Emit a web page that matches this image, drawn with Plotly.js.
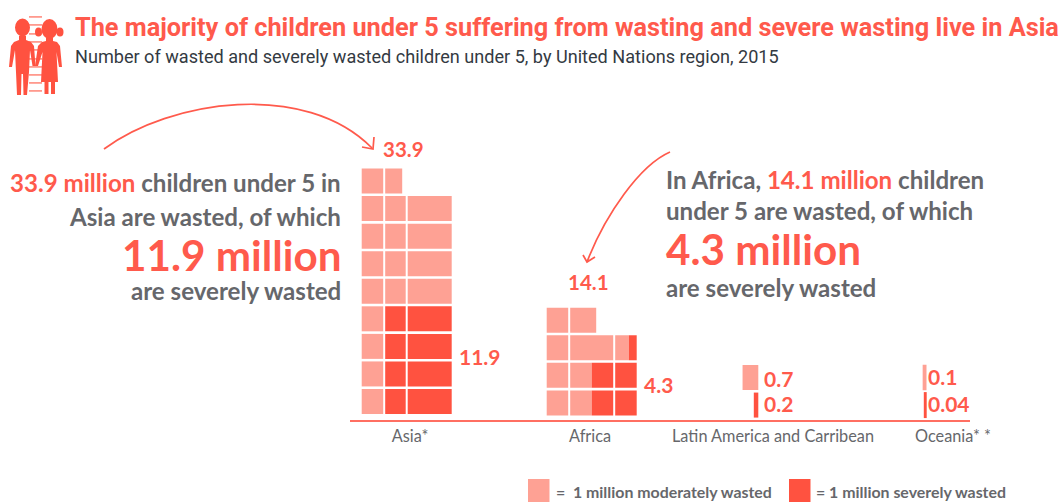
<!DOCTYPE html>
<html><head><meta charset="utf-8">
<script src="https://cdn.plot.ly/plotly-3.0.1.min.js"></script>
<style>html,body{margin:0;padding:0;background:#fff}</style></head>
<body><div id="chart" style="width:1063px;height:502px"></div>
<script>
// ---- data (rows run bottom to top, millions of children per row) ----
const regionLabels = ['Asia*', 'Africa', 'Latin America and Carribean', 'Oceania* *'];
const asiaModerate = [1, 1, 1, 1, 4, 4, 4, 4, 1.8];
const asiaSevere   = [3, 3, 3, 3, 0, 0, 0, 0, 0];
const africaModerate = [2, 2, 3.65, 2.2];
const africaSevere   = [2, 2, 0.35, 0];
const latamModerate = [0, 0.7];
const latamSevere   = [0.2, 0];
const oceaniaModerate = [0, 0.1];
const oceaniaSevere   = [0.04, 0];
const valueLabels = ['33.9', '11.9', '14.1', '4.3', '0.7', '0.2', '0.1', '0.04'];

// ---- layout constants ----
const W = 1063, H = 502;
const L = 350, R = 970, T = 150, B = 420;
const UNIT = 22.5, ROW = 27.56;
const xRange = [0, (R - L) / UNIT];
const yRange = [(401.5 - B) / ROW, (401.5 - T) / ROW];
const uX = px => (px - L) / UNIT;
const fx = px => (px - L) / (R - L);
const fy = py => (B - py) / (B - T);
const MOD = '#fea194', SEV = '#ff5240', RED = '#ff5a4c', GREY = '#66676b', AXIS = '#ff6f62';
const LATO = 'Lato, sans-serif', ROBOTO = 'Roboto, sans-serif';

const regions = [
  {mod: asiaModerate, sev: asiaSevere, left: 361.7, dy: 0, breaks: [1, 2]},
  {mod: africaModerate, sev: africaSevere, left: 546.7, dy: -0.05, breaks: [1, 3]},
  {mod: latamModerate, sev: latamSevere, right: 758.3, dy: -0.13, breaks: []},
  {mod: oceaniaModerate, sev: oceaniaSevere, right: 925.7, dy: -0.13, breaks: [], thin: true}
];

const modT = {x: [], base: [], y: []}, sevT = {x: [], base: [], y: []};
const thinMod = {x: [], base: [], y: []}, thinSev = {x: [], base: [], y: []};
const shapes = [];
regions.forEach(r => {
  r.mod.forEach((m, i) => {
    const s = r.sev[i];
    const start = r.left !== undefined ? uX(r.left) : uX(r.right) - m - s;
    const mt = r.thin ? thinMod : modT, st = r.thin ? thinSev : sevT;
    if (m > 0) { mt.x.push(m); mt.base.push(start); mt.y.push(i + r.dy); }
    if (s > 0) { st.x.push(s); st.base.push(start + m); st.y.push(i + r.dy); }
  });
  r.breaks.forEach(b => shapes.push({
    type: 'line', xref: 'x', yref: 'y', layer: 'above',
    x0: uX(r.left) + b, x1: uX(r.left) + b,
    y0: r.dy - 0.5, y1: r.mod.length - 0.5 + r.dy,
    line: {color: '#ffffff', width: 2}
  }));
});
const bar = (t, color, name, lw) => ({
  type: 'bar', orientation: 'h', name, x: t.x, base: t.base, y: t.y, width: lw ? 0.87 : 0.907,
  marker: {color, line: {color: lw ? color : 'rgba(0,0,0,0)', width: lw || 0}},
  hoverinfo: 'skip', showlegend: false
});
const traces = [bar(modT, MOD, 'moderately wasted'), bar(sevT, SEV, 'severely wasted'),
                bar(thinMod, MOD, 'moderately wasted', 1.6), bar(thinSev, SEV, 'severely wasted', 2)];

// helpers for pixel-positioned decoration
const pth = (cmds, color, w, fill) => ({
  type: 'path', xref: 'paper', yref: 'paper',
  path: cmds.map(c => typeof c === 'string' ? c : fx(c[0]).toFixed(5) + ',' + fy(c[1]).toFixed(5)).join(' '),
  line: {color: w ? color : 'rgba(0,0,0,0)', width: w || 0},
  fillcolor: fill ? color : 'rgba(0,0,0,0)'
});
const rect = (x0, y0, x1, y1, color) => ({
  type: 'rect', xref: 'paper', yref: 'paper', x0: fx(x0), x1: fx(x1), y0: fy(y0), y1: fy(y1),
  fillcolor: color, line: {width: 0}
});
const circ = (cx, cy, rx, ry, color) => ({
  type: 'circle', xref: 'paper', yref: 'paper', x0: fx(cx - rx), x1: fx(cx + rx), y0: fy(cy - ry), y1: fy(cy + ry),
  fillcolor: color, line: {width: 0}
});

// arrows
shapes.push(pth(['M', [104, 149], 'C', [170, 100], [305, 80], [372, 148]], RED, 1.7));
shapes.push(pth(['M', [362, 147], 'L', [373, 149], 'L', [374, 137]], RED, 1.7));
shapes.push(pth(['M', [670, 152], 'C', [640, 165], [605, 215], [587, 262]], RED, 1.7));
shapes.push(pth(['M', [583, 255], 'L', [587, 262], 'L', [595, 257]], RED, 1.7));

// legend swatches
shapes.push(rect(528, 479, 549.5, 502, MOD), rect(789, 479, 810.5, 502, SEV));

// icon: ladder, boy, girl
const IC = '#ff5240';
[16, 24, 33, 41, 49, 58, 66, 74, 82, 90].forEach(y => shapes.push(rect(29, y, 42, y + 1.8, '#ff9a8e')));
shapes.push(circ(22.5, 27.5, 7.5, 9, IC));
shapes.push(pth(['M', [19, 36], 'L', [26, 36], 'L', [26, 40], 'L', [31, 42], 'L', [34, 46], 'L', [35.5, 66], 'L', [32.5, 66], 'L', [30, 50], 'L', [29, 72], 'L', [27, 95], 'L', [23.5, 95], 'L', [23, 74], 'L', [21.5, 74], 'L', [21, 95], 'L', [17, 95], 'L', [16, 72], 'L', [15, 50], 'L', [12, 67], 'L', [9, 67], 'L', [11, 46], 'L', [14, 42], 'L', [19, 40], 'Z'], IC, 0, true));
shapes.push(circ(49.5, 29, 8, 10, IC));
shapes.push(circ(38.5, 32, 3.5, 4.5, IC), circ(60, 32, 3.5, 4.5, IC));
shapes.push(pth(['M', [46, 38], 'L', [53, 38], 'L', [53, 41], 'L', [57, 42], 'L', [60, 46], 'L', [62, 67], 'L', [59, 67], 'L', [56.5, 52], 'L', [58, 82], 'L', [55, 82], 'L', [55, 94], 'L', [51, 94], 'L', [51, 82], 'L', [48.5, 82], 'L', [48.5, 94], 'L', [44.5, 94], 'L', [44.5, 82], 'L', [41, 82], 'L', [42.5, 52], 'L', [38, 66], 'L', [35, 66], 'L', [38, 46], 'L', [42, 42], 'L', [46, 41], 'Z'], IC, 0, true));

// text
const red = s => '<span style="color:' + RED + '">' + s + '</span>';
const ann = (text, px, py, size, anchor, color, family, weight) => ({
  text, xref: 'paper', yref: 'paper', x: fx(px), y: fy(py), xanchor: anchor, yanchor: 'middle',
  showarrow: false, align: anchor, borderpad: 0, borderwidth: 0,
  font: {family: family || LATO, size, color: color || GREY, weight: weight || 700}
});
const annotations = [
  ann('Number of wasted and severely wasted children under 5, by United Nations region, 2015', 75, 57, 18.1, 'left', '#333a42', ROBOTO, 400),
  ann(red('33.9 million') + ' children under 5 in', 341, 182, 24.1, 'right'),
  ann('Asia are wasted, of which', 341, 216, 24.1, 'right'),
  ann('11.9 million', 341, 254, 42.2, 'right', RED),
  ann('are severely wasted', 341, 290, 24.1, 'right'),
  ann('In Africa, ' + red('14.1 million') + ' children', 666, 179, 24.1, 'left'),
  ann('under 5 are wasted, of which', 666, 210, 24.1, 'left'),
  ann('4.3 million', 666, 248, 42.2, 'left', RED),
  ann('are severely wasted', 666, 287, 24.1, 'left'),
  ann(valueLabels[0], 403, 149, 20.5, 'center', RED),
  ann(valueLabels[1], 459, 356, 21, 'left', RED),
  ann(valueLabels[2], 588, 282, 20.5, 'center', RED),
  ann(valueLabels[3], 644, 384, 21, 'left', RED),
  ann(valueLabels[4], 764, 378, 21, 'left', RED),
  ann(valueLabels[5], 764, 403, 21, 'left', RED),
  ann(valueLabels[6], 928, 376, 21, 'left', RED),
  ann(valueLabels[7], 928, 403, 21, 'left', RED),
  ann('=  1 million moderately wasted', 556, 491.5, 15.9, 'left'),
  ann('= 1 million severely wasted', 816, 491.5, 15.9, 'left')
];

const layout = {
  width: W, height: H, autosize: false,
  margin: {l: L, r: W - R, t: T, b: H - B, pad: 0},
  paper_bgcolor: '#fff', plot_bgcolor: 'rgba(0,0,0,0)',
  barmode: 'overlay', showlegend: false,
  title: {
    text: '<b>The majority of children under 5 suffering from wasting and severe wasting live in Asia</b>',
    x: 75 / W, xanchor: 'left', xref: 'container', y: 1 - 27 / H, yanchor: 'middle',
    font: {family: ROBOTO, size: 25.3, color: RED}
  },
  xaxis: {
    range: xRange, fixedrange: true, showgrid: false, zeroline: false,
    showline: true, linecolor: AXIS, linewidth: 2, ticks: '',
    tickmode: 'array', tickvals: [410, 590, 773, 953].map(uX), ticktext: regionLabels,
    tickangle: 0, tickfont: {family: LATO, size: 16.3, color: GREY}
  },
  yaxis: {range: yRange, fixedrange: true, visible: false},
  shapes, annotations
};
Plotly.newPlot('chart', traces, layout, {displayModeBar: false, staticPlot: true});
</script></body></html>
